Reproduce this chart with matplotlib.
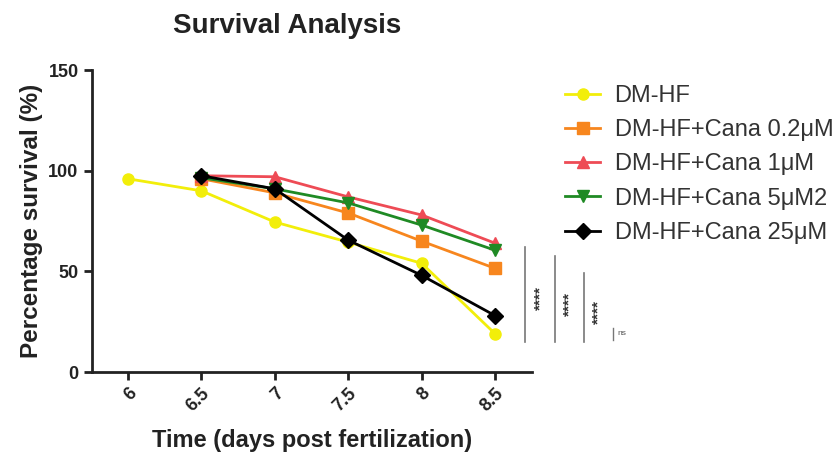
import matplotlib
matplotlib.use("Agg")
import matplotlib.pyplot as plt

# data
days = [6, 6.5, 7, 7.5, 8, 8.5]
dm_hf = [96, 90, 74.5, 64.5, 54, 19]
days_cana = [6.5, 7, 7.5, 8, 8.5]
cana_02 = [96, 89, 79, 65, 51.5]
cana_1 = [97.5, 97, 87, 78, 64]
cana_5 = [96.5, 91, 84, 73, 60.5]
cana_25 = [97.5, 91, 65.5, 48, 28]

labels = ["DM-HF", "DM-HF+Cana 0.2μM", "DM-HF+Cana 1μM",
          "DM-HF+Cana 5μM2", "DM-HF+Cana 25μM"]
colors = ["#F2EE0A", "#F7861E", "#EE4B55", "#1F8A24", "#000000"]
markers = ["o", "s", "^", "v", "D"]

plt.rcParams['font.family'] = ['Liberation Sans', 'DejaVu Sans']

fig = plt.figure(figsize=(8.34, 4.61), dpi=100)
ax = fig.add_axes([0.110, 0.193, 0.528, 0.655])

series = [(days, dm_hf), (days_cana, cana_02), (days_cana, cana_1),
          (days_cana, cana_5), (days_cana, cana_25)]
for (x, y), lab, c, m in zip(series, labels, colors, markers):
    ax.plot(x, y, color=c, marker=m, markersize=8, linewidth=2, label=lab,
            markeredgecolor=c)

ax.set_xlim(5.753, 8.752)
ax.set_ylim(0, 150)
ax.set_xticks(days)
ax.set_xticklabels(["6", "6.5", "7", "7.5", "8", "8.5"])
ax.set_yticks([0, 50, 100, 150])
for s in ["top", "right"]:
    ax.spines[s].set_visible(False)
for s in ["left", "bottom"]:
    ax.spines[s].set_linewidth(2)
    ax.spines[s].set_color("#222222")
ax.tick_params(axis="both", length=6, width=2, color="#222222",
               labelsize=13, labelcolor="#222222")
for t in ax.get_xticklabels():
    t.set_rotation(45)
    t.set_ha("right")
    t.set_va("top")
    t.set_rotation_mode("anchor")
    t.set_fontweight("bold")
for t in ax.get_yticklabels():
    t.set_fontweight("bold")

fig.text(0.344, 0.944, "Survival Analysis", fontsize=20, fontweight="bold",
         color="#222222", ha="center", va="center")
ax.set_ylabel("Percentage survival (%)", fontsize=17.5, fontweight="bold",
              color="#222222", labelpad=4)
ax.set_xlabel("Time (days post fertilization)", fontsize=17,
              fontweight="bold", color="#222222", labelpad=10)

# significance marks
sig_x = [8.705, 8.909, 9.107]
sig_top = [62, 57.5, 49]
star_x = [8.807, 9.004, 9.202]
star_y = [37, 34, 30]
for xs, yt, sx, sy in zip(sig_x, sig_top, star_x, star_y):
    ax.plot([xs, xs], [15, yt], color="#777777", linewidth=1.2, clip_on=False)
    ax.text(sx, sy, "****", rotation=90, ha="center", va="center",
            fontsize=11, fontweight="bold", color="#333333", clip_on=False)
ax.plot([9.30, 9.30], [16, 22], color="#777777", linewidth=1.0, clip_on=False)
ax.text(9.33, 19, "ns", fontsize=6, ha="left", va="center", color="#555555")

fig.legend(loc="upper left", bbox_to_anchor=(0.652, 0.862), frameon=False,
           fontsize=17, handlelength=1.5, handletextpad=0.6,
           labelspacing=0.52, labelcolor="#333333")

fig.savefig("out.png", dpi=100)
